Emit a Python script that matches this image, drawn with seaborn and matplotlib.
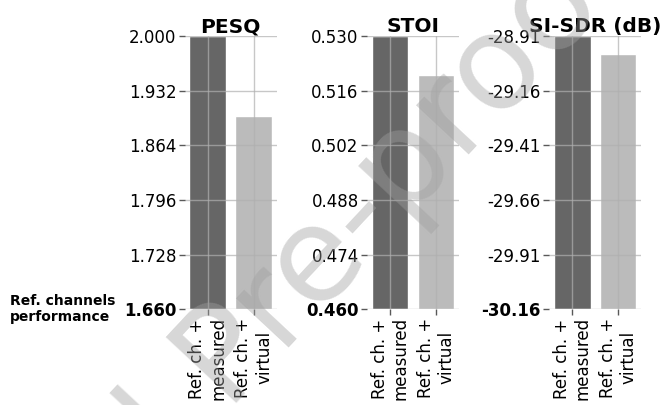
import numpy as np
import pandas as pd
import seaborn as sns
import matplotlib.pyplot as plt

# Bar values
categories = ['Ref. ch. +\nmeasured', 'Ref. ch. +\nvirtual']
metrics = ['PESQ', 'STOI', 'SI-SDR (dB)']
pesq = [2.000, 1.901]
stoi = [0.530, 0.520]
sisdr = [-28.91, -28.99]
y_bottom = [1.660, 0.460, -30.16]
tick_fmt = ['{:.3f}', '{:.3f}', '{:.2f}']

bar_colors = ['#666666', '#bbbbbb']

sns.set_style('white')
plt.rcParams['font.family'] = ['DejaVu Sans']
plt.rcParams['text.color'] = 'black'
plt.rcParams['xtick.labelcolor'] = 'black'
plt.rcParams['ytick.labelcolor'] = 'black'

fig = plt.figure(figsize=(6.65, 4.05), dpi=100)

lefts = [0.278, 0.552, 0.826]
for i, (name, vals) in enumerate(zip(metrics, [pesq, stoi, sisdr])):
    ax = fig.add_axes([lefts[i], 0.237, 0.138, 0.673])
    # bars start at the bottom of the axis, not at zero
    df = pd.DataFrame({'cond': categories,
                       'height': np.array(vals) - y_bottom[i]})
    sns.barplot(data=df, x='cond', y='height', hue='cond', palette=bar_colors,
                width=0.8, legend=False, bottom=y_bottom[i], ax=ax)
    top = max(vals)
    ticks = np.linspace(y_bottom[i], top, 6)
    ax.set_ylim(y_bottom[i], top)
    ax.set_xlim(-0.5, 1.5)
    ax.set_yticks(ticks)
    ax.set_yticklabels([tick_fmt[i].format(t) for t in ticks], fontsize=12)
    ax.get_yticklabels()[0].set_fontweight('bold')
    ax.set_xticks([0, 1])
    ax.set_xticklabels(categories, rotation=90, fontsize=12)
    ax.set_xlabel('')
    ax.set_ylabel('')
    ax.set_title(name, fontsize=14.5, fontweight='bold', pad=3)
    ax.set_axisbelow(False)
    ax.grid(True, color='#b0b0b0', alpha=0.7, linewidth=1)
    ax.tick_params(axis='both', length=4, width=1, color='0.35', pad=2,
                   left=True, bottom=True)
    sns.despine(ax=ax, left=True, bottom=True)

fig.text(0.015, 0.237, 'Ref. channels\nperformance', fontsize=10,
         fontweight='bold', ha='left', va='center', linespacing=1.1)

# watermark on top of everything
fig.text(0.36, 0.125, 'Journal Pre-proof', fontsize=95, color='#a0a0a0',
         alpha=0.42, rotation=47, ha='center', va='center', zorder=10)

fig.savefig('out.png', dpi=100)
